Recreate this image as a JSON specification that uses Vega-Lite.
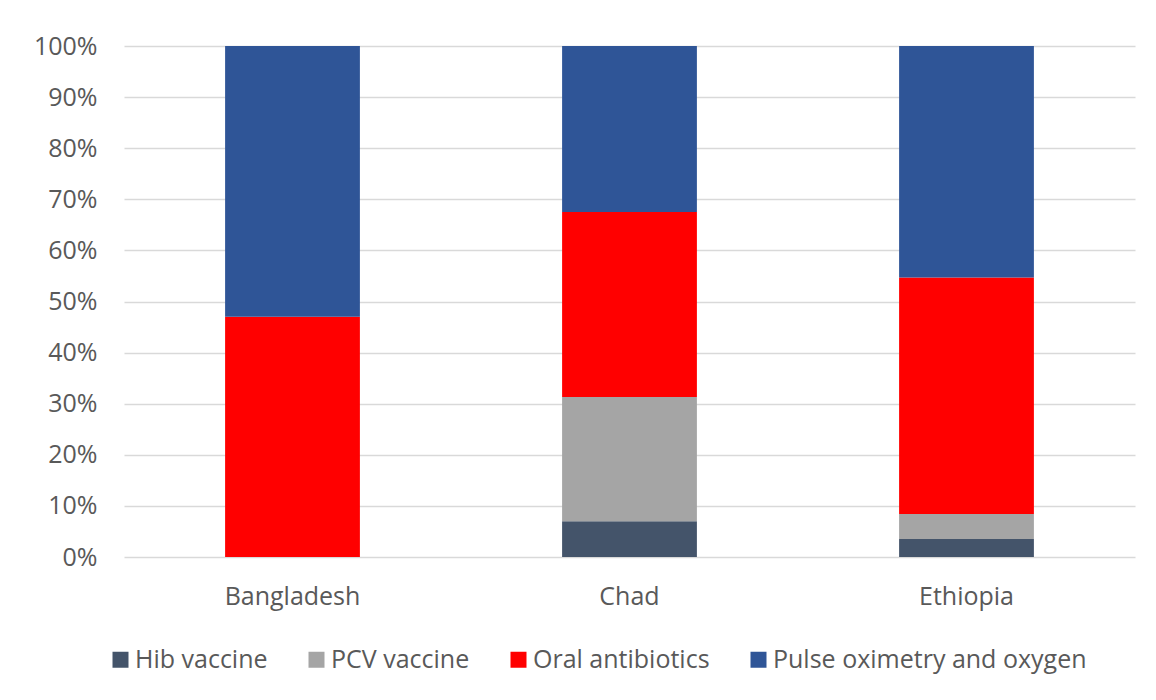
{
  "$schema": "https://vega.github.io/schema/vega-lite/v6.json",
  "width": 1011,
  "height": 511,
  "autosize": "none",
  "padding": {"left": 124, "top": 46, "right": 21, "bottom": 143},
  "background": "white",
  "data": {
    "values": [
      {"country": "Bangladesh", "item": "Hib vaccine", "k": 1, "value": 0},
      {"country": "Bangladesh", "item": "PCV vaccine", "k": 2, "value": 0},
      {"country": "Bangladesh", "item": "Oral antibiotics", "k": 3, "value": 47},
      {"country": "Bangladesh", "item": "Pulse oximetry and oxygen", "k": 4, "value": 53},
      {"country": "Chad", "item": "Hib vaccine", "k": 1, "value": 7.0},
      {"country": "Chad", "item": "PCV vaccine", "k": 2, "value": 24.3},
      {"country": "Chad", "item": "Oral antibiotics", "k": 3, "value": 36.2},
      {"country": "Chad", "item": "Pulse oximetry and oxygen", "k": 4, "value": 32.5},
      {"country": "Ethiopia", "item": "Hib vaccine", "k": 1, "value": 3.5},
      {"country": "Ethiopia", "item": "PCV vaccine", "k": 2, "value": 4.9},
      {"country": "Ethiopia", "item": "Oral antibiotics", "k": 3, "value": 46.3},
      {"country": "Ethiopia", "item": "Pulse oximetry and oxygen", "k": 4, "value": 45.3}
    ]
  },
  "mark": {"type": "bar"},
  "encoding": {
    "x": {
      "field": "country", "type": "nominal", "title": null,
      "scale": {"paddingInner": 0.6, "paddingOuter": 0.3},
      "axis": {"labelAngle": 0, "domain": false, "ticks": false, "labelPadding": 27,
               "labelFontSize": 25, "labelFont": "Open Sans", "labelColor": "#595959"}
    },
    "y": {
      "field": "value", "type": "quantitative", "stack": "normalize", "title": null,
      "axis": {"format": "%", "values": [0,0.1,0.2,0.3,0.4,0.5,0.6,0.7,0.8,0.9,1.0],
               "domain": false, "ticks": false, "labelPadding": 27,
               "labelFontSize": 25, "labelFont": "Open Sans", "labelColor": "#595959",
               "gridColor": "#D9D9D9", "gridWidth": 1.5}
    },
    "color": {
      "field": "item", "type": "nominal",
      "sort": ["Hib vaccine", "PCV vaccine", "Oral antibiotics", "Pulse oximetry and oxygen"],
      "scale": {"domain": ["Hib vaccine", "PCV vaccine", "Oral antibiotics", "Pulse oximetry and oxygen"],
                "range": ["#44546A", "#A5A5A5", "#FF0000", "#2F5597"]},
      "legend": {
        "title": null, "orient": "none", "direction": "horizontal",
        "legendX": -16, "legendY": 601,
        "symbolType": "square", "symbolSize": 256, "symbolStrokeWidth": 0,
        "labelFontSize": 25, "labelFont": "Open Sans", "labelColor": "#595959",
        "columnPadding": 36, "labelOffset": 2, "labelLimit": 450
      }
    },
    "order": {"field": "k", "type": "quantitative"}
  },
  "config": {"view": {"stroke": null}}
}
